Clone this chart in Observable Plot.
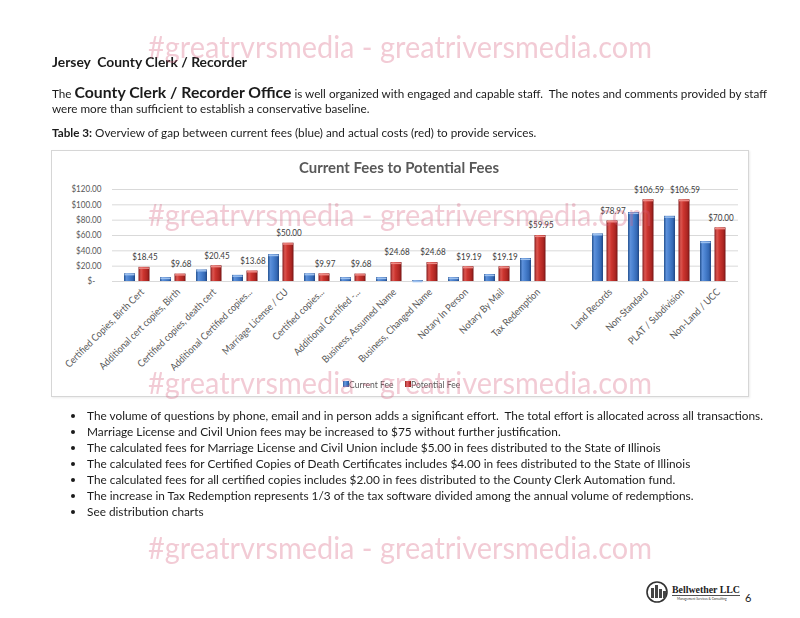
<!DOCTYPE html>
<html><head><meta charset="utf-8">
<script src="https://cdn.jsdelivr.net/npm/d3@7"></script>
<script src="https://cdn.jsdelivr.net/npm/@observablehq/plot@0.6"></script>
<style>
html,body{margin:0;padding:0;background:#fff;}
body{width:800px;height:618px;position:relative;overflow:hidden;font-family:Lato,"Noto Sans",sans-serif;color:#1b1b1b;}
.abs{position:absolute;white-space:nowrap;transform-origin:0 50%;line-height:1;}
.dot{position:absolute;width:4px;height:4px;border-radius:50%;background:#1b1b1b;}
.wm{position:absolute;white-space:nowrap;transform-origin:0 50%;line-height:1;font-size:31px;color:rgba(214,92,124,0.32);filter:blur(0.7px);pointer-events:none;z-index:10;}
#box{position:absolute;left:51px;top:150px;width:698px;height:247px;border:1px solid #d6d6d6;box-sizing:border-box;box-shadow:1px 1px 2px rgba(0,0,0,0.08);}
#chart{position:absolute;left:51px;top:180px;}
.leg{position:absolute;font-size:9.5px;color:#595959;white-space:nowrap;line-height:1;transform-origin:0 50%;}
.sq{position:absolute;width:6px;height:6px;}
</style></head><body>

<div id="doc">
  <div class="abs" id="h1" style="left:52px;top:55px;font-size:14px;font-weight:700;">Jersey&nbsp; County Clerk / Recorder</div>
  <div class="abs" id="p1" style="left:52px;top:85px;font-size:11.5px;">The <span style="font-size:15.5px;font-weight:700;">County Clerk / Recorder Office</span> is well organized with engaged and capable staff.&nbsp; The notes and comments provided by staff</div>
  <div class="abs" id="p2" style="left:52px;top:103px;font-size:11.5px;">were more than sufficient to establish a conservative baseline.</div>
  <div class="abs" id="t3" style="left:52px;top:127px;font-size:11.5px;"><b>Table 3:</b> Overview of gap between current fees (blue) and actual costs (red) to provide services.</div>
</div>

<div id="box"></div>
<div class="abs" id="ctitle" style="left:299px;top:161px;font-size:14.5px;font-weight:700;color:#595959;">Current Fees to Potential Fees</div>
<div id="chart"></div>
<div class="sq" style="left:343px;top:381px;background:linear-gradient(90deg,#2a5a9f,#6a9be0,#3c78c8,#24508f);"></div>
<div class="leg" id="l1" style="left:349px;top:380px;">Current Fee</div>
<div class="sq" style="left:405px;top:381px;background:linear-gradient(90deg,#8f1e1a,#e0605a,#c8302a,#7d1613);"></div>
<div class="leg" id="l2" style="left:411px;top:380px;">Potential Fee</div>

<div id="bullets"></div>

<div id="logo" style="position:absolute;left:645px;top:580px;">
  <svg width="104" height="26">
    <circle cx="12" cy="12" r="10" fill="none" stroke="#333" stroke-width="1.6"/>
    <rect x="6" y="8" width="3" height="10" fill="#444"/><rect x="10" y="5" width="3" height="13" fill="#444"/><rect x="14" y="9" width="3" height="9" fill="#444"/><rect x="18" y="11" width="3" height="7" fill="#444"/>
    <text x="27" y="13" font-family="'Liberation Serif',serif" font-weight="700" font-size="10.5" textLength="68" lengthAdjust="spacingAndGlyphs" fill="#222">Bellwether LLC</text>
    <line x1="27" y1="15.5" x2="95" y2="15.5" stroke="#222" stroke-width="0.8"/>
    <text x="32" y="20" font-family="Lato,sans-serif" font-size="3.2" fill="#333">Management Services &amp; Consulting</text>
  </svg>
</div>
<div class="abs" style="left:745px;top:592px;font-size:11px;">6</div>

<script>
// ---------- data ----------
const categories = ["Certified Copies, Birth Cert","Additional cert copies, Birth","Certified copies, death cert","Additional Certified copies...","Marriage License / CU","Certified copies...","Additional Certified -...","Business, Assumed Name","Business, Changed Name","Notary In Person","Notary By Mail","Tax Redemption","","Land Records","Non-Standard","PLAT / Subdivision","Non-Land / UCC"];
const currentFee   = [10, 5, 15, 8, 35, 10, 5, 5, 1, 5, 9, 30, null, 62, 90, 85, 52];
const potentialFee = [18.45, 9.68, 20.45, 13.68, 50.00, 9.97, 9.68, 24.68, 24.68, 19.19, 19.19, 59.95, null, 78.97, 106.59, 106.59, 70.00];
const yTicks = [0, 20, 40, 60, 80, 100, 120];
const seriesNames = ["Current Fee", "Potential Fee"];
const bulletLines = [
  "The volume of questions by phone, email and in person adds a significant effort.\u00a0 The total effort is allocated across all transactions.",
  "Marriage License and Civil Union fees may be increased to $75 without further justification.",
  "The calculated fees for Marriage License and Civil Union include $5.00 in fees distributed to the State of Illinois",
  "The calculated fees for Certified Copies of Death Certificates includes $4.00 in fees distributed to the State of Illinois",
  "The calculated fees for all certified copies includes $2.00 in fees distributed to the County Clerk Automation fund.",
  "The increase in Tax Redemption represents 1/3 of the tax software divided among the annual volume of redemptions.",
  "See distribution charts"
];
const watermarkText = "#greatrvrsmedia - greatriversmedia.com";

const rows = categories.map((c, i) => ({category: c, current: currentFee[i], potential: potentialFee[i]}))
  .filter(d => d.current != null);

// ---------- chart ----------
const defs = () => {
  const g = d3.create("svg:g");
  const d = g.append("defs");
  const mk = (id, stops) => {
    const lg = d.append("linearGradient").attr("id", id).attr("x1", 0).attr("x2", 1).attr("y1", 0).attr("y2", 0);
    stops.forEach(([o, c]) => lg.append("stop").attr("offset", o).attr("stop-color", c));
  };
  mk("gBlue", [[0, "#24528f"], [0.22, "#5d90da"], [0.45, "#4a82d0"], [0.8, "#3468b4"], [1, "#1f4682"]]);
  mk("gRed", [[0, "#84191a"], [0.22, "#dc5650"], [0.45, "#cc352f"], [0.8, "#ac2622"], [1, "#761414"]]);
  return g.node();
};

const plot = Plot.plot({
  width: 698, height: 195,
  marginTop: 9, marginBottom: 94, marginLeft: 61, marginRight: 11,
  style: {fontFamily: "Lato, sans-serif", fontSize: "9px", color: "#595959", background: "transparent", overflow: "visible"},
  x: {domain: categories, padding: 0},
  y: {domain: [0, 120]},
  marks: [
    defs,
    Plot.gridY(yTicks, {stroke: "#d9d9d9", strokeOpacity: 1}),
    Plot.axisY({ticks: yTicks, tickFormat: d => d === 0 ? "$-\u00a0\u00a0\u00a0" : "$" + d.toFixed(2), tickSize: 0, tickPadding: 11, fill: "#595959", label: null}),
    Plot.axisX({tickRotate: -45, tickSize: 0, tickPadding: 9, dx: 5, fontSize: 10, fill: "#595959", label: null}),
    Plot.barY(rows, {x: "category", y: "current", fill: "url(#gBlue)", insetLeft: 5, insetRight: 20}),
    Plot.barY(rows, {x: "category", y: "potential", fill: "url(#gRed)", insetLeft: 19.5, insetRight: 5.5}),
    Plot.tickY(rows, {x: "category", y: "current", stroke: "#9cc0ee", strokeWidth: 1.5, insetLeft: 5.5, insetRight: 20.5, dy: 0.8}),
    Plot.tickY(rows, {x: "category", y: "potential", stroke: "#ee8a85", strokeWidth: 1.5, insetLeft: 20, insetRight: 6, dy: 0.8}),
    Plot.text(rows, {x: "category", y: "potential", text: d => "$" + d.potential.toFixed(2), dx: 7.5, dy: -10, fill: "#404040"})
  ]
});
document.getElementById("chart").appendChild(plot);
plot.querySelectorAll("text").forEach(t => {
  const L = t.getComputedTextLength();
  if (L > 0) { t.setAttribute("textLength", L * 0.9); t.setAttribute("lengthAdjust", "spacingAndGlyphs"); }
});

// ---------- document text ----------
const bul = document.getElementById("bullets");
bulletLines.forEach((s, i) => {
  const yc = 416 + 16 * i;
  const dot = document.createElement("div");
  dot.className = "dot"; dot.style.left = "71px"; dot.style.top = (yc - 2) + "px";
  bul.appendChild(dot);
  const el = document.createElement("div");
  el.className = "abs"; el.style.left = "87px"; el.style.top = (yc - 6) + "px"; el.style.fontSize = "11.5px";
  el.textContent = s; el.id = "b" + i;
  bul.appendChild(el);
});

function fit(el, w) { const r = el.getBoundingClientRect().width; const s = w / r; el.style.transform = `scaleX(${s})`; return s; }
fit(document.getElementById("h1"), 195);
const sp = fit(document.getElementById("p1"), 715);
document.getElementById("p2").style.transform = `scaleX(${sp})`;
document.getElementById("t3").style.transform = `scaleX(${sp})`;
fit(document.getElementById("ctitle"), 200);
const sb = fit(document.getElementById("b0"), 676);
for (let i = 1; i < bulletLines.length; i++) document.getElementById("b" + i).style.transform = `scaleX(${sb})`;
document.getElementById("l1").style.transform = `scaleX(0.9)`;
document.getElementById("l2").style.transform = `scaleX(0.9)`;

[47, 215, 383, 548].forEach(yc => {
  const w = document.createElement("div");
  w.className = "wm"; w.textContent = watermarkText;
  w.style.left = "148px"; w.style.top = (yc - 16) + "px";
  document.body.appendChild(w);
  fit(w, 504);
});
</script>
</body></html>
